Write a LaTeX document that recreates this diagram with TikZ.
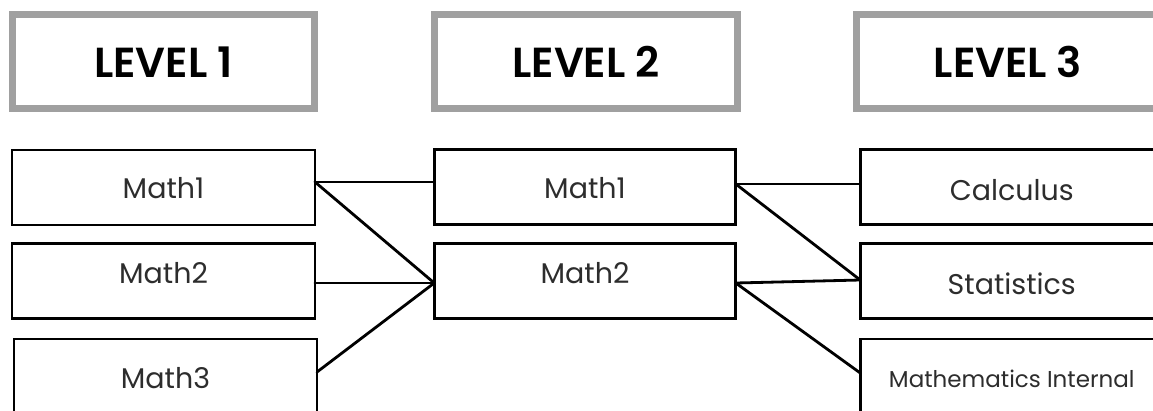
\documentclass[tikz,border=0pt]{standalone}
\usepackage{fontspec}
\setmainfont{Poppins}
\newfontfamily\hdrfont{Poppins SemiBold}
\definecolor{hdrgray}{RGB}{160,160,160}
\definecolor{txtgray}{RGB}{45,45,45}
\newcommand{\dropped}[2]{\raisebox{-#1pt}[0pt][0pt]{#2}}
\begin{document}
\begin{tikzpicture}[x=1pt,y=-1pt,
  hdr/.style={draw=hdrgray, line width=7pt, minimum width=302pt, minimum height=94pt,
    inner sep=0pt, outer sep=0pt, font=\hdrfont\fontsize{42}{42}\selectfont, text=black},
  crs/.style={draw=black, line width=2.8pt, minimum width=303pt, minimum height=75pt,
    inner sep=0pt, outer sep=0pt, font=\fontsize{28.5}{28.5}\selectfont, text=txtgray},
  link/.style={line width=2.8pt, line cap=round}]
\useasboundingbox (0,0) rectangle (1153,410);
\fill[white] (0,0) rectangle (1153,410);
\clip (0,0) rectangle (1153,410);
% headers
\node[hdr] (h1) at (163.5,61.5) {\dropped{15.5}{LEVEL 1}};
\node[hdr, minimum width=303pt] (h2) at (586,61.5) {\dropped{15.5}{LEVEL 2}};
\node[hdr, minimum width=303pt] (h3) at (1008,61.5) {\dropped{15.5}{LEVEL 3}};
% level 1
\node[crs] (a1) at (163.5,187.5) {\dropped{10.5}{Math1}};
\node[crs] (a2) at (163.5,281) {\dropped{2}{Math2}};
\node[crs] (a3) at (165.5,376.5) {\dropped{11.5}{Math3}};
% level 2
\node[crs, minimum width=301.5pt] (b1) at (585,187) {\dropped{11}{Math1}};
\node[crs, minimum width=301.5pt] (b2) at (585,281) {\dropped{2}{Math2}};
% level 3
\node[crs] (c1) at (1011.75,187) {\dropped{13.5}{Calculus}};
\node[crs] (c2) at (1011.75,281) {\dropped{13}{Statistics}};
\node[crs, font=\fontsize{23}{23}\selectfont] (c3) at (1011.75,376.5) {\dropped{10.5}{Mathematics Internal}};
% connectors
\draw[link] ([yshift=5.5pt]a1.east) -- ([yshift=5pt]b1.west);
\draw[link] ([yshift=5.5pt]a1.east) -- ([yshift=-2pt]b2.west);
\draw[link] ([yshift=-2pt]a2.east) -- ([yshift=-2pt]b2.west);
\draw[link] ([yshift=4.5pt]a3.east) -- ([yshift=-2pt]b2.west);
\draw[link] ([yshift=3pt]b1.east) -- ([yshift=3pt]c1.west);
\draw[link] ([yshift=3pt]b1.east) -- ([yshift=1pt]c2.west);
\draw[link] ([yshift=-2pt]b2.east) -- ([yshift=1pt]c2.west);
\draw[link] ([yshift=-2pt]b2.east) -- ([yshift=3.5pt]c3.west);
\end{tikzpicture}
\end{document}
